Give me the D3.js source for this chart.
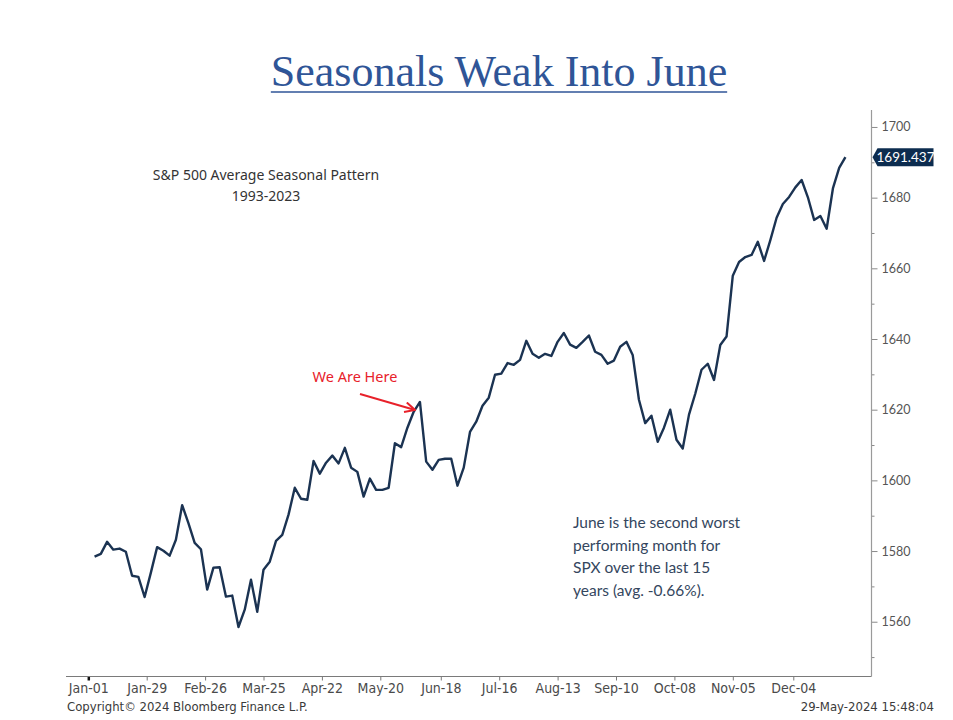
<!DOCTYPE html>
<html>
<head>
<meta charset="utf-8">
<script src="https://cdn.jsdelivr.net/npm/d3@7"></script>
<style>
  body { margin: 0; background: #fff; }
  svg { display: block; }
</style>
</head>
<body>
<svg id="chart"></svg>
<script>
const WIDTH = 953;
const HEIGHT = 720;

// average seasonal path, one reading every 3 days from Jan-04
const START_DATE = '2024-01-04';
const STEP_DAYS = 3;
const values = [
  1578.4, 1579.2, 1582.6, 1580.4, 1580.7, 1579.8, 1573.0, 1572.7, 1567.0, 1573.9,
  1581.1, 1580.1, 1578.7, 1583.2, 1593.0, 1587.9, 1582.3, 1580.5, 1569.1, 1575.3,
  1575.4, 1567.1, 1567.4, 1558.5, 1563.4, 1571.9, 1562.8, 1574.7, 1577.0, 1582.9,
  1584.6, 1590.3, 1597.9, 1594.8, 1594.5, 1605.5, 1601.9, 1605.0, 1607.0, 1604.8,
  1609.2, 1603.6, 1602.4, 1595.4, 1600.5, 1597.3, 1597.3, 1597.9, 1610.5, 1609.4,
  1614.9, 1619.4, 1622.2, 1605.3, 1603.0, 1605.8, 1606.1, 1606.1, 1598.5, 1603.6,
  1613.7, 1616.6, 1621.1, 1623.4, 1629.9, 1630.2, 1633.2, 1632.7, 1634.1, 1639.5,
  1635.8, 1634.7, 1635.8, 1635.2, 1639.2, 1641.7, 1638.4, 1637.5, 1639.2, 1641.0,
  1636.4, 1635.5, 1633.0, 1633.9, 1637.8, 1639.2, 1635.5, 1622.8, 1616.2, 1618.3,
  1610.9, 1614.9, 1620.0, 1611.5, 1609.0, 1618.6, 1624.5, 1631.3, 1633.0, 1628.4,
  1638.3, 1640.7, 1657.9, 1661.8, 1663.2, 1663.8, 1667.5, 1662.1, 1668.0, 1674.3,
  1678.2, 1680.2, 1682.9, 1685.0, 1680.1, 1673.7, 1674.8, 1671.2, 1682.6, 1688.4,
  1691.437
];

const xTickDates = ['2024-01-01', '2024-01-29', '2024-02-26', '2024-03-25', '2024-04-22',
  '2024-05-20', '2024-06-18', '2024-07-16', '2024-08-13', '2024-09-10',
  '2024-10-08', '2024-11-05', '2024-12-04'];
const yTicks = [1560, 1580, 1600, 1620, 1640, 1660, 1680, 1700];
const yMinorTicks = [1550, 1570, 1590, 1610, 1630, 1650, 1670, 1690];

const TITLE = 'Seasonals Weak Into June';
const NOTE_LINES = ['S&P 500 Average Seasonal Pattern', '1993-2023'];
const HERE_LABEL = 'We Are Here';
const COMMENT_LINES = ['June is the second worst', 'performing month for',
  'SPX over the last 15', 'years (avg. -0.66%).'];
const COPYRIGHT = 'Copyright\u00a9 2024 Bloomberg Finance L.P.';
const STAMP = '29-May-2024 15:48:04';

const parseDate = d3.utcParse('%Y-%m-%d');
const start = parseDate(START_DATE);
const series = values.map((v, i) => ({ date: d3.utcDay.offset(start, i * STEP_DAYS), value: v }));

const plot = { left: 66, right: 871.5, top: 110, bottom: 676.5 };

const x = d3.scaleUtc()
  .domain([parseDate('2024-01-01'), parseDate('2024-12-31')])
  .range([88.3, 849.6]);

const y = d3.scaleLinear()
  .domain([1544.5, 1704.8])
  .range([plot.bottom, plot.top]);

const svg = d3.select('#chart')
  .attr('width', WIDTH)
  .attr('height', HEIGHT);

//    Title    ////////////////////////////////////////////
const title = svg.append('text')
  .attr('x', 499)
  .attr('y', 86)
  .attr('text-anchor', 'middle')
  .style('font-family', '"Liberation Serif", serif')
  .style('font-size', '44px')
  .style('fill', '#2f5597')
  .text(TITLE);

const tb = title.node().getBBox();
svg.append('line')
  .attr('x1', tb.x).attr('x2', tb.x + tb.width)
  .attr('y1', 92).attr('y2', 92)
  .attr('stroke', '#2f5597')
  .attr('stroke-width', 1.6);

//    Axes    ////////////////////////////////////////////
const xAxis = svg.append('g')
  .attr('class', 'x-axis')
  .attr('transform', `translate(0,${plot.bottom})`)
  .call(d3.axisBottom(x)
    .tickValues(xTickDates.map(parseDate))
    .tickFormat(d3.utcFormat('%b-%d'))
    .tickSize(4)
    .tickPadding(3));

xAxis.select('.domain').remove();
xAxis.selectAll('.tick line').attr('stroke', '#777');
xAxis.selectAll('.tick text')
  .style('font-family', '"DejaVu Sans Condensed", "Liberation Sans Narrow", "DejaVu Sans", sans-serif')
  .style('font-stretch', 'condensed')
  .style('font-size', '14px')
  .style('fill', '#4a4a4a');

xAxis.select('.tick line')
  .attr('stroke', '#111')
  .attr('stroke-width', 2.5);

svg.append('line')
  .attr('x1', plot.left).attr('x2', plot.right)
  .attr('y1', plot.bottom).attr('y2', plot.bottom)
  .attr('stroke', '#7a7a7a')
  .attr('stroke-width', 1.2);

const yAxis = svg.append('g')
  .attr('transform', `translate(${plot.right},0)`)
  .call(d3.axisRight(y)
    .tickValues(yTicks)
    .tickFormat(d3.format('d'))
    .tickSize(6)
    .tickPadding(4));

yAxis.select('.domain').remove();
yAxis.selectAll('.tick line').attr('stroke', '#8a8a8a');
yAxis.selectAll('.tick text')
  .style('font-family', 'Lato, "Liberation Sans", sans-serif')
  .style('font-size', '12.5px')
  .style('fill', '#555');

svg.append('g')
  .attr('transform', `translate(${plot.right},0)`)
  .call(d3.axisRight(y).tickValues(yMinorTicks).tickSize(3).tickFormat(''))
  .call(g => g.select('.domain').remove())
  .selectAll('.tick line').attr('stroke', '#8a8a8a');

svg.append('line')
  .attr('x1', plot.right).attr('x2', plot.right)
  .attr('y1', plot.top).attr('y2', plot.bottom)
  .attr('stroke', '#9a9a9a')
  .attr('stroke-width', 1.2);

//    Line    ////////////////////////////////////////////
const line = d3.line()
  .x(d => x(d.date))
  .y(d => y(d.value));

svg.append('path')
  .datum(series)
  .attr('fill', 'none')
  .attr('stroke', '#1b3352')
  .attr('stroke-width', 2.4)
  .attr('stroke-linejoin', 'round')
  .attr('d', line);

// last value badge
const last = series[series.length - 1];
const by = y(last.value);
const badge = svg.append('g').attr('transform', `translate(${plot.right + 1},${by})`);
badge.append('path')
  .attr('d', 'M0,0 L5,-9 L61,-9 L61,9 L5,9 Z')
  .attr('fill', '#0c2c4f');
badge.append('text')
  .attr('x', 33)
  .attr('y', 4.5)
  .attr('text-anchor', 'middle')
  .style('font-family', 'Lato, "Liberation Sans", sans-serif')
  .style('font-size', '13.5px')
  .style('fill', '#fff')
  .text(d3.format('.3f')(last.value));

//    Notes    ////////////////////////////////////////////
svg.append('g')
  .selectAll('text')
  .data(NOTE_LINES)
  .enter().append('text')
  .attr('x', 266)
  .attr('y', (d, i) => 180 + i * 21)
  .attr('text-anchor', 'middle')
  .style('font-family', '"Noto Sans", sans-serif')
  .style('font-size', '14px')
  .style('fill', '#333')
  .text(d => d);

svg.append('text')
  .attr('x', 355)
  .attr('y', 382)
  .attr('text-anchor', 'middle')
  .style('font-family', '"Noto Sans", sans-serif')
  .style('font-size', '14.5px')
  .style('fill', '#e8212a')
  .text(HERE_LABEL);

svg.append('defs').append('marker')
  .attr('id', 'arrow')
  .attr('viewBox', '0 0 12 12')
  .attr('refX', 11).attr('refY', 6)
  .attr('markerWidth', 12).attr('markerHeight', 12)
  .attr('markerUnits', 'userSpaceOnUse')
  .attr('orient', 'auto')
  .append('path')
  .attr('d', 'M1,1 L11,6 L1,11')
  .attr('fill', 'none')
  .attr('stroke', '#e8212a')
  .attr('stroke-width', 2);

svg.append('line')
  .attr('x1', 360).attr('y1', 394)
  .attr('x2', 415).attr('y2', 410)
  .attr('stroke', '#e8212a')
  .attr('stroke-width', 2)
  .attr('marker-end', 'url(#arrow)');

svg.append('g')
  .selectAll('text')
  .data(COMMENT_LINES)
  .enter().append('text')
  .attr('x', 573)
  .attr('y', (d, i) => 528 + i * 22.6)
  .style('font-family', 'Lato, "Open Sans", sans-serif')
  .style('font-size', '15.5px')
  .style('fill', '#34465e')
  .text(d => d);

//    Footer    ////////////////////////////////////////////
const footFont = '"DejaVu Sans Condensed", "Liberation Sans Narrow", "DejaVu Sans", sans-serif';
svg.append('text')
  .attr('x', 67)
  .attr('y', 711)
  .style('font-family', footFont)
  .style('font-stretch', 'condensed')
  .style('font-size', '13px')
  .style('fill', '#3a3a3a')
  .text(COPYRIGHT);

svg.append('text')
  .attr('x', 934)
  .attr('y', 711)
  .attr('text-anchor', 'end')
  .style('font-family', footFont)
  .style('font-stretch', 'condensed')
  .style('font-size', '13px')
  .style('fill', '#3a3a3a')
  .text(STAMP);
</script>
</body>
</html>
